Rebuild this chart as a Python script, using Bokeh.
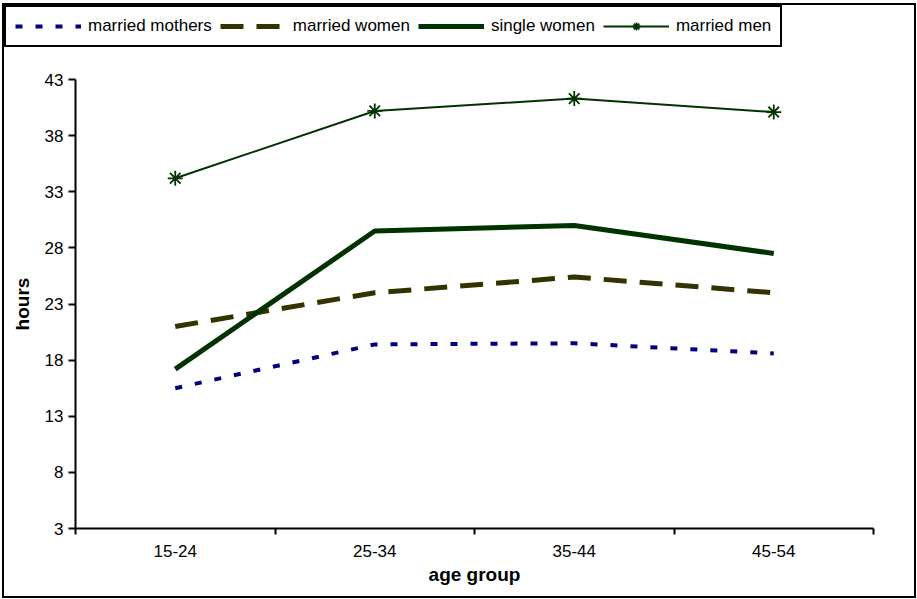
from bokeh.plotting import figure
from bokeh.layouts import column
from bokeh.models import (FixedTicker, Legend, LegendItem, Range1d)
from bokeh.embed import file_html
from bokeh.resources import INLINE

categories = ["15-24", "25-34", "35-44", "45-54"]
married_mothers = [15.5, 19.4, 19.5, 18.6]
married_women = [21.0, 24.0, 25.4, 24.0]
single_women = [17.2, 29.5, 30.0, 27.5]
married_men = [34.2, 40.2, 41.3, 40.1]
y_ticks = [3, 8, 13, 18, 23, 28, 33, 38, 43]
series_names = ["married mothers", "married women", "single women", "married men"]

FONT = "Liberation Sans"
xs = [i + 0.5 for i in range(len(categories))]

W = 910
LEG_H = 60
MAIN_H = 531

styles = {
    "mm": dict(line_color="#000080", line_width=4, line_dash="7 13"),
    "mw": dict(line_color="#333300", line_width=5, line_dash="23 13"),
    "sw": dict(line_color="#003300", line_width=5),
    "men": dict(line_color="#003300", line_width=2),
}
men_marker = dict(marker="asterisk", size=15, line_color="#003300", line_width=1.8)


def draw_series(fig):
    r1 = fig.line(xs, married_mothers, **styles["mm"])
    r2 = fig.line(xs, married_women, **styles["mw"])
    r3 = fig.line(xs, single_women, **styles["sw"])
    r4 = fig.line(xs, married_men, **styles["men"])
    r5 = fig.scatter(xs, married_men, **men_marker)
    return r1, r2, r3, r4, r5


# ---------- main chart ----------
p = figure(width=W, height=MAIN_H, output_backend="svg", toolbar_location=None,
           x_range=Range1d(0, len(categories)), y_range=Range1d(3, 43),
           min_border_left=71, min_border_right=41, min_border_top=14,
           min_border_bottom=68)
p.frame_align = False
p.outline_line_color = None
p.xgrid.visible = False
p.ygrid.visible = False
p.background_fill_color = "white"
p.border_fill_color = "white"

p.xaxis.ticker = FixedTicker(ticks=xs, minor_ticks=list(range(len(categories) + 1)))
p.xaxis.major_label_overrides = {x: c for x, c in zip(xs, categories)}
p.xaxis.major_tick_out = 0
p.xaxis.major_tick_in = 0
p.xaxis.minor_tick_out = 6
p.xaxis.minor_tick_in = 0
p.xaxis.minor_tick_line_color = "black"
p.xaxis.minor_tick_line_width = 2
p.xaxis.major_label_standoff = 10
p.xaxis.axis_label = "age group"
p.xaxis.axis_label_standoff = 4

p.yaxis.ticker = FixedTicker(ticks=y_ticks)
p.yaxis.minor_tick_line_color = None
p.yaxis.major_tick_out = 7
p.yaxis.major_tick_in = 0
p.yaxis.major_label_standoff = 5
p.yaxis.axis_label = "hours"
p.yaxis.axis_label_standoff = 9

for ax in (p.xaxis, p.yaxis):
    ax.axis_line_color = "black"
    ax.axis_line_width = 2
    ax.major_tick_line_color = "black"
    ax.major_tick_line_width = 2
    ax.major_label_text_font = FONT
    ax.major_label_text_font_size = "17px"
    ax.major_label_text_color = "black"
    ax.axis_label_text_font = FONT
    ax.axis_label_text_font_size = "19px"
    ax.axis_label_text_font_style = "bold"
    ax.axis_label_text_color = "black"

draw_series(p)

# ---------- legend strip (same series, drawn outside its visible range) ----------
lg = figure(width=W, height=LEG_H, output_backend="svg", toolbar_location=None,
            x_axis_type=None, y_axis_type=None,
            x_range=Range1d(0, len(categories)), y_range=Range1d(1000, 1001),
            min_border=0, min_border_left=0, min_border_right=0,
            min_border_top=0, min_border_bottom=0)
lg.frame_align = False
lg.grid.visible = False
lg.outline_line_color = None
lg.background_fill_color = "white"
lg.border_fill_color = "white"

k_mm, k_mw, k_sw, k_men, k_men_m = draw_series(lg)

legend = Legend(items=[
    LegendItem(label=series_names[0], renderers=[k_mm]),
    LegendItem(label=series_names[1], renderers=[k_mw]),
    LegendItem(label=series_names[2], renderers=[k_sw]),
    LegendItem(label=series_names[3], renderers=[k_men, k_men_m]),
], orientation="horizontal", location=(0, 18))
legend.margin = 0
legend.padding = 9
legend.spacing = 8
legend.glyph_width = 66
legend.label_standoff = 7
legend.label_text_font = FONT
legend.label_text_font_size = "17px"
legend.label_text_color = "black"
legend.border_line_color = "black"
legend.border_line_alpha = 1
legend.border_line_width = 2
legend.background_fill_color = "white"
legend.background_fill_alpha = 1
lg.add_layout(legend, "center")

layout = column(lg, p, spacing=0,
                styles={"border": "2px solid black", "margin-left": "2px",
                        "margin-top": "3px"})

open("out.html", "w").write(file_html(layout, INLINE))
